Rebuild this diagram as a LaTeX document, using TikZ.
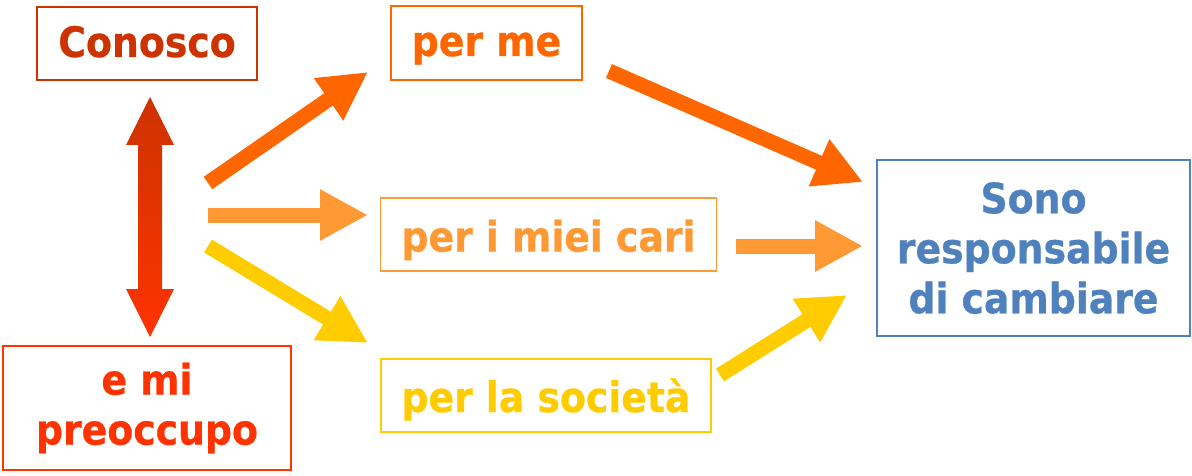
\documentclass[tikz,border=0pt]{standalone}
\usepackage{fontspec}
\setmainfont{DejaVu Sans Condensed}[BoldFeatures={FakeBold=0.6}]
\usetikzlibrary{arrows.meta,calc}
\definecolor{cA}{HTML}{CC3300}
\definecolor{cE}{HTML}{FF3300}
\definecolor{cM}{HTML}{FF6600}
\definecolor{cC}{HTML}{FF9933}
\definecolor{cS}{HTML}{FFCC00}
\definecolor{cB}{HTML}{4F81BD}
\begin{document}
\begin{tikzpicture}[x=1pt,y=-1pt,
  box/.style={draw=#1, text=#1, line width=1.8pt, inner sep=0pt, align=center,
    font=\fontsize{42}{50}\selectfont\bfseries},
  blk/.style={draw=#1, line width=15pt, -{Triangle[length=48pt,width=48pt]}}]
\useasboundingbox (0,0) rectangle (1192,476);
% boxes
\node[box=cA, minimum width=220pt, minimum height=73pt, text height=33.5pt, text depth=6.5pt] (con) at (147,43.5) {Conosco};
\node[box=cM, minimum width=191pt, minimum height=74pt, text height=33pt, text depth=7pt] (perme) at (486.5,43) {per me};
\node[box=cC, minimum width=336pt, minimum height=73pt, text height=37pt, text depth=3pt] (cari) at (548.5,234.5) {per i miei cari};
\node[box=cS, minimum width=330pt, minimum height=73pt, text height=36.5pt, text depth=3.5pt] (soc) at (546,395.5) {per la società};
\node[box=cE, minimum width=288pt, minimum height=124pt] (pre) at (147,408) {e mi\\preoccupo};
\node[box=cB, minimum width=313pt, minimum height=176pt] (sono) at (1033.5,248) {Sono\\responsabile\\di cambiare};
% arrow end points
\coordinate (a1s) at (208,183); \coordinate (a1e) at (368,72);
\coordinate (a2s) at (208,215); \coordinate (a2e) at (368,215);
\coordinate (a3s) at (208,246); \coordinate (a3e) at (368,343);
\coordinate (b1s) at (609,71);  \coordinate (b1e) at (863,182);
\coordinate (b2s) at (736,246); \coordinate (b2e) at (863,246);
\coordinate (b3s) at (720,375); \coordinate (b3e) at (847,295);
\coordinate (ut) at (150,97); \coordinate (ub) at (150,337);
% double arrow
\shade[top color=cA, bottom color=cE]
  (ut) -- ++(24,48) -- ++(-12,0) -- ($(ub)+(12,-48)$) -- ++(12,0) -- (ub)
  -- ++(-24,-48) -- ++(12,0) -- ($(ut)+(-12,48)$) -- ++(-12,0) -- cycle;
% block arrows
\draw[blk=cM] (a1s) -- (a1e);
\draw[blk=cC] (a2s) -- (a2e);
\draw[blk=cS] (a3s) -- (a3e);
\draw[blk=cM] (b1s) -- (b1e);
\draw[blk=cC] (b2s) -- (b2e);
\draw[blk=cS] (b3s) -- (b3e);
\end{tikzpicture}
\end{document}
